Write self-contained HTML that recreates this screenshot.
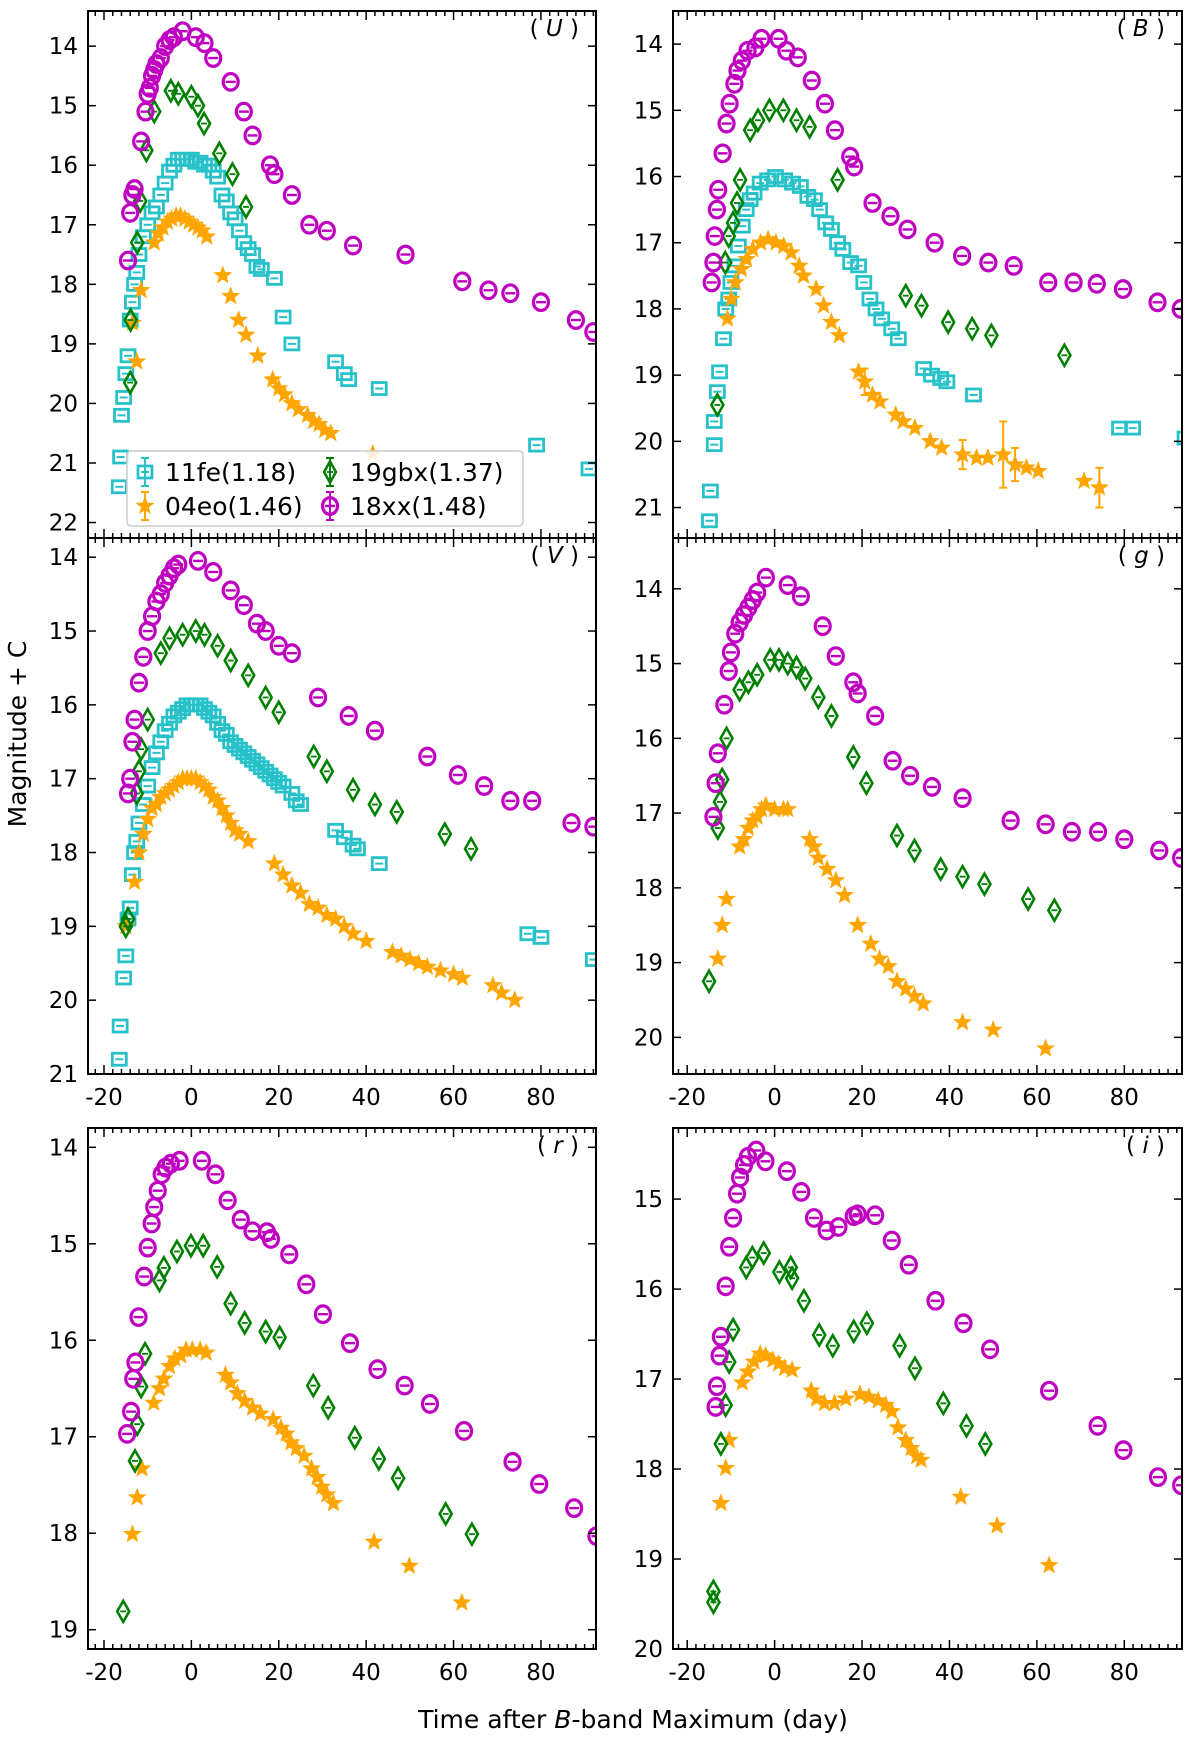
<!DOCTYPE html>
<html><head><meta charset="utf-8"><title>SN light curves</title>
<style>
html,body{margin:0;padding:0;background:#fff;}
svg{display:block;}
text{font-family:"DejaVu Sans","Liberation Sans",sans-serif;}
</style></head>
<body>
<svg id="fig" width="1200" height="1739" viewBox="0 0 1200 1739" xmlns="http://www.w3.org/2000/svg">
<text x="0" y="0" transform="translate(26,734) rotate(-90)" text-anchor="middle" font-size="25" fill="#000">Magnitude + C</text>
<text x="633" y="1728" text-anchor="middle" font-size="25" fill="#000">Time after <tspan font-style="italic">B</tspan>-band Maximum (day)</text>
</svg>
<script>
// ---------- data ----------
const U_11fe_t=[-16.5,-16.2,-16,-15.5,-15,-14.5,-14,-13.5,-13,-12.5,-12,-11,-10,-9,-8,-7,-6,-5,-4,-3,-2,-1,0,1,2,3,4,5,6,7,8,9,10,11,12,13,14,15,16,19,21,23,33,35,36,43,79,91];
const U_11fe_m=[21.4,20.9,20.2,19.9,19.5,19.2,18.6,18.3,18.0,17.8,17.5,17.2,17.0,16.8,16.7,16.5,16.3,16.1,16.0,15.9,15.9,15.9,15.9,15.95,15.95,16.0,16.0,16.1,16.2,16.5,16.6,16.8,16.9,17.1,17.3,17.4,17.5,17.7,17.75,17.9,18.55,19.0,19.3,19.5,19.6,19.75,20.7,21.1];
const U_04eo_t=[-13.5,-12.5,-11.5,-8.5,-7.5,-6.5,-5.5,-4.5,-3.5,-2.5,-1.5,-0.5,0.5,1.5,2.5,3.5,7.2,9,10.8,12.5,15.2,18.6,20,21.3,23,24.5,26.6,28,29.2,30.5,31.9,41.5];
const U_04eo_m=[18.65,19.3,18.1,17.3,17.15,17.05,16.95,16.9,16.85,16.85,16.9,16.95,17.0,17.05,17.1,17.2,17.85,18.2,18.6,18.85,19.2,19.6,19.75,19.85,20.0,20.1,20.2,20.3,20.35,20.45,20.5,20.85];
const U_19gbx_t=[-13.9,-14,-12.4,-11.7,-10.3,-8.5,-4.7,-3,0,1.5,2.9,6.4,9.4,12.5];
const U_19gbx_m=[18.6,19.65,17.3,16.6,15.75,15.1,14.75,14.8,14.85,15.0,15.3,15.8,16.15,16.7];
const U_18xx_t=[-14.5,-14,-13.5,-13,-11.5,-10.5,-10,-9.5,-9,-8.5,-8,-7,-6,-5,-4,-2,1,3,5,9,12,14,18,19,23,27,31,37,49,62,68,73,80,88,92];
const U_18xx_m=[17.6,16.8,16.5,16.4,15.6,15.1,14.8,14.7,14.5,14.4,14.3,14.2,14.0,13.9,13.85,13.75,13.85,13.95,14.2,14.6,15.1,15.5,16.0,16.15,16.5,17.0,17.1,17.35,17.5,17.95,18.1,18.15,18.3,18.6,18.8];

const B_11fe_t=[-14.9,-14.7,-13.8,-13.8,-13.1,-12.6,-11.7,-11.2,-10.5,-10,-9.1,-8.3,-7.4,-6.5,-5.6,-4.7,-3.3,-1.6,0.2,2.3,4.1,5.9,7.6,9.1,10.3,11.7,13,14.4,15.6,17.4,19.2,20.4,21.8,23.2,24.5,26.8,28.3,34.1,35.9,38,39.4,45.5,78.9,81.9,93.9];
const B_11fe_m=[21.2,20.75,20.05,19.7,19.25,18.95,18.45,18.0,17.85,17.6,17.35,17.05,16.75,16.5,16.35,16.25,16.1,16.05,16.0,16.05,16.1,16.15,16.3,16.35,16.5,16.7,16.8,17.0,17.1,17.3,17.35,17.6,17.85,18.0,18.15,18.3,18.45,18.9,19.0,19.05,19.1,19.3,19.8,19.8,19.95];
const B_04eo_t=[-10.8,-9.9,-9,-7.6,-6.4,-5,-3.2,-1.5,0.3,2.1,3.8,5.6,6.6,9.5,11.2,13,14.8,19.2,20.6,22.4,24.1,27.7,29.4,32.1,35.6,38.2,43,46.2,48.8,52.3,55,57.6,60.3,70.8,74.3];
const B_04eo_m=[18.15,17.85,17.6,17.4,17.25,17.1,17.0,16.95,17.0,17.05,17.15,17.35,17.5,17.7,17.95,18.2,18.4,18.95,19.1,19.3,19.4,19.6,19.7,19.8,20.0,20.1,20.2,20.25,20.25,20.2,20.35,20.4,20.45,20.6,20.7];
const B_04eo_e=[0,0,0,0,0,0,0,0,0,0,0,0,0,0,0,0,0,0,0.2,0,0,0,0,0,0,0,0.22,0,0,0.5,0.25,0,0,0,0.3];
const B_19gbx_t=[-13.1,-11.3,-10.5,-9.5,-8.6,-7.9,-5.6,-3.8,-1.2,2,5,8,14.4,30,33.6,39.7,45.2,49.6,66.3];
const B_19gbx_m=[19.45,17.3,16.9,16.7,16.4,16.05,15.3,15.15,15.0,15.0,15.15,15.25,16.05,17.8,17.95,18.2,18.3,18.4,18.7];
const B_18xx_t=[-14.4,-14,-13.7,-13.2,-12.9,-11.9,-11,-10.3,-9.2,-8.5,-7.5,-6.2,-4.4,-3,0.9,2.7,5.3,8.5,11.5,13.8,17.3,18.2,22.4,26.5,30.4,36.6,42.9,48.9,54.7,62.6,68.4,73.7,79.7,87.6,92.9];
const B_18xx_m=[17.6,17.3,16.9,16.5,16.2,15.65,15.2,14.9,14.6,14.4,14.25,14.1,14.05,13.92,13.92,14.1,14.2,14.55,14.9,15.3,15.7,15.85,16.4,16.6,16.8,17.0,17.2,17.3,17.35,17.6,17.6,17.62,17.7,17.9,18.0];

const V_11fe_t=[-16.5,-16.3,-15.5,-15,-14.5,-14,-13.5,-13,-12.5,-12,-11,-10,-9,-8,-7,-6,-5,-4,-3,-2,-1,0,1,2,3,4,5,6,7,8,9,10,11,12,13,14,15,16,17,18,19,20,21,23,24,25,33,35,37,38,43,77,80,92];
const V_11fe_m=[20.8,20.35,19.7,19.4,18.9,18.75,18.3,18.0,17.85,17.6,17.35,17.1,16.85,16.65,16.5,16.35,16.25,16.15,16.1,16.05,16.0,16.0,16.0,16.0,16.05,16.1,16.15,16.25,16.35,16.4,16.5,16.55,16.6,16.65,16.7,16.75,16.8,16.85,16.9,16.95,17.0,17.05,17.1,17.2,17.3,17.35,17.7,17.8,17.9,17.95,18.15,19.1,19.15,19.45];
const V_04eo_t=[-15,-13,-12,-11,-10,-9,-8,-7,-6,-5,-4,-3,-2,-1,0,1,2,3,4,5,6,7,8,9,10,11,13,19,21,23,25,27,29,31,33,35,37,40,46,48,50,52,54,57,60,62,69,71,74];
const V_04eo_m=[19.0,18.4,18.0,17.75,17.55,17.4,17.35,17.25,17.2,17.15,17.1,17.05,17.0,17.0,17.0,17.0,17.05,17.1,17.15,17.25,17.3,17.4,17.5,17.6,17.7,17.75,17.85,18.15,18.3,18.45,18.55,18.7,18.75,18.85,18.9,19.0,19.1,19.2,19.35,19.4,19.45,19.5,19.55,19.6,19.65,19.7,19.8,19.9,20.0];
const V_19gbx_t=[-15,-14.5,-12.5,-12,-11.5,-10,-7,-5,-2,1,3,6,9,13,17,20,28,31,37,42,47,58,64];
const V_19gbx_m=[19.0,18.9,17.2,16.9,16.6,16.2,15.3,15.1,15.05,15.0,15.05,15.2,15.4,15.6,15.9,16.1,16.7,16.9,17.15,17.35,17.45,17.75,17.95];
const V_18xx_t=[-14.5,-14,-13.5,-13,-12,-11,-10,-9,-8,-7,-6,-5,-4,-3,1.5,5,9,12,15,17,20,23,29,36,42,54,61,67,73,78,87,92];
const V_18xx_m=[17.2,17.0,16.5,16.2,15.7,15.35,15.0,14.8,14.6,14.5,14.35,14.25,14.15,14.1,14.05,14.2,14.45,14.65,14.9,15.0,15.2,15.3,15.9,16.15,16.35,16.7,16.95,17.1,17.3,17.3,17.6,17.65];

const G_04eo_t=[-13,-12,-11,-8,-7,-6,-5,-4,-3,-2,0,2,3,8,9,10,12,14,16,19,22,24,26,28,30,32,34,43,50,62];
const G_04eo_m=[18.95,18.5,18.15,17.45,17.35,17.2,17.1,17.05,16.95,16.9,16.95,16.95,16.95,17.35,17.45,17.6,17.75,17.9,18.1,18.5,18.75,18.95,19.05,19.25,19.35,19.45,19.55,19.8,19.9,20.15];
const G_19gbx_t=[-15,-13,-12.5,-12,-11,-8,-6,-4,-1,1,3,5,7,10,13,18,21,28,32,38,43,48,58,64];
const G_19gbx_m=[19.25,17.2,16.85,16.55,16.0,15.35,15.25,15.15,14.95,14.95,15.0,15.05,15.2,15.45,15.7,16.25,16.6,17.3,17.5,17.75,17.85,17.95,18.15,18.3];
const G_18xx_t=[-14,-13.5,-13,-11.5,-10.5,-10,-9,-8,-7,-6,-5,-4,-2,3,6,11,14,18,19,23,27,31,36,43,54,62,68,74,80,88,93];
const G_18xx_m=[17.05,16.6,16.2,15.55,15.1,14.85,14.6,14.45,14.35,14.25,14.15,14.05,13.85,13.95,14.1,14.5,14.9,15.25,15.4,15.7,16.3,16.5,16.65,16.8,17.1,17.15,17.25,17.25,17.35,17.5,17.6];

const R_04eo_t=[-13.5,-12.4,-11.3,-8.6,-7.3,-6.3,-5,-3.8,-2.4,-1.2,0.2,2,3.4,7.8,9,10.5,12.2,14,15.8,18.7,20.5,21.7,22.8,24,25.8,27.5,28.8,29.8,31,32.5,41.8,49.9,61.9];
const R_04eo_m=[18.01,17.63,17.33,16.65,16.5,16.4,16.27,16.19,16.16,16.1,16.1,16.1,16.13,16.36,16.44,16.55,16.63,16.7,16.76,16.82,16.91,16.97,17.06,17.12,17.2,17.33,17.42,17.52,17.6,17.69,18.09,18.34,18.72];
const R_19gbx_t=[-15.6,-12.9,-12.4,-11.5,-10.6,-7.3,-6.3,-3.3,-0.1,2.7,5.9,9,12.2,17,20.2,27.9,31.3,37.4,42.9,47.3,58.2,64.2];
const R_19gbx_m=[18.81,17.25,16.87,16.48,16.14,15.38,15.25,15.08,15.02,15.02,15.24,15.62,15.82,15.91,15.97,16.47,16.7,17.01,17.23,17.43,17.8,18.01];
const R_18xx_t=[-14.7,-13.8,-13.3,-12.8,-12.1,-10.8,-10,-9.1,-8.5,-7.7,-6.8,-5.9,-4.7,-2.7,2.4,5.5,8.3,11.3,14,17.3,18.2,22.4,26.3,30.1,36.3,42.6,48.8,54.6,62.4,73.5,79.6,87.6,92.7];
const R_18xx_m=[16.97,16.74,16.4,16.23,15.76,15.34,15.04,14.79,14.62,14.45,14.28,14.21,14.17,14.14,14.14,14.28,14.55,14.75,14.87,14.88,14.95,15.11,15.42,15.73,16.03,16.3,16.47,16.66,16.94,17.26,17.49,17.74,18.03];

const I_04eo_t=[-12.3,-11.2,-10.4,-7.4,-6.1,-4.7,-3.3,-2.1,-0.4,0.9,2.3,4,8.4,9.6,11.4,13.7,16.3,19.5,21.6,23.7,25.4,26.8,28.2,30,31.2,32.5,33.5,42.6,50.9,62.8];
const I_04eo_m=[18.38,17.99,17.68,17.04,16.92,16.81,16.72,16.74,16.79,16.83,16.88,16.9,17.13,17.22,17.27,17.27,17.22,17.17,17.2,17.24,17.29,17.36,17.54,17.68,17.77,17.86,17.9,18.31,18.63,19.07];
const I_19gbx_t=[-14,-14,-12.3,-11.2,-10.4,-9.5,-6.5,-5.1,-2.5,1.1,3.7,4,6.7,10.2,13.3,18.1,21.1,28.6,32.1,38.6,43.9,48.2];
const I_19gbx_m=[19.36,19.48,17.72,17.29,16.81,16.45,15.76,15.65,15.6,15.81,15.76,15.88,16.13,16.51,16.63,16.47,16.38,16.63,16.88,17.27,17.52,17.72];
const I_18xx_t=[-13.5,-13.2,-12.6,-12.3,-11.2,-10.4,-9.5,-8.6,-7.9,-7,-6.1,-4.2,-2.1,2.8,6.1,9,11.9,14.6,18.1,19,23,26.8,30.7,36.8,43.2,49.3,62.8,73.9,79.8,87.7,93];
const I_18xx_m=[17.31,17.08,16.74,16.53,15.97,15.53,15.21,14.94,14.76,14.62,14.53,14.46,14.58,14.69,14.92,15.21,15.35,15.31,15.19,15.17,15.18,15.46,15.73,16.13,16.38,16.67,17.13,17.52,17.79,18.09,18.18];

const xTicks=[-20,0,20,40,60,80];
const legendLabels=["11fe(1.18)","19gbx(1.37)","04eo(1.46)","18xx(1.48)"];

// ---------- drawing ----------
const NS="http://www.w3.org/2000/svg";
const svg=document.getElementById('fig');
const COL={c:"#27c2c9",o:"#ffa500",g:"#008000",m:"#c000c0"};
function mk(tag,attrs,parent){const e=document.createElementNS(NS,tag);for(const k in attrs)e.setAttribute(k,attrs[k]);(parent||svg).appendChild(e);return e;}

function marker(g,type,x,y){
  let e;
  if(type==='c'){e=mk('g',{},g);mk('rect',{x:x-7,y:y-6,width:14,height:12,fill:'none',stroke:COL.c,'stroke-width':2.8},e);mk('line',{x1:x-4,x2:x+4,y1:y,y2:y,stroke:COL.c,'stroke-width':2},e);}
  else if(type==='m'){e=mk('g',{},g);mk('ellipse',{cx:x,cy:y,rx:7.5,ry:8.3,fill:'none',stroke:COL.m,'stroke-width':3.2},e);mk('line',{x1:x-5,x2:x+5,y1:y,y2:y,stroke:COL.m,'stroke-width':2.4},e);}
  else if(type==='g'){e=mk('g',{},g);mk('path',{d:`M${x},${y-10.5}L${x+6},${y}L${x},${y+10.5}L${x-6},${y}Z`,fill:'none',stroke:COL.g,'stroke-width':2.6},e);mk('line',{x1:x-3,x2:x+3,y1:y,y2:y,stroke:COL.g,'stroke-width':1.8},e);}
  else {let d='';for(let k=0;k<10;k++){const r=k%2?3.6:8.5,a=-Math.PI/2+k*Math.PI/5;d+=(k?'L':'M')+(x+r*Math.cos(a)).toFixed(1)+','+(y+r*Math.sin(a)).toFixed(1);}e=mk('path',{d:d+'Z',fill:COL.o,stroke:COL.o,'stroke-width':1},g);}
  return e;
}

function panel(name,label,x0,x1,y0,y1,d0,d1,m0,m1,yTicks,showX,series){
  const pg=mk('g',{});
  
  
  const sx=d=>x0+(d-d0)/(d1-d0)*(x1-x0);
  const sy=m=>y0+(m-m0)/(m1-m0)*(y1-y0);
  const clip='clip-'+name;
  const cp=mk('clipPath',{id:clip},pg);mk('rect',{x:x0,y:y0,width:x1-x0,height:y1-y0},cp);
  const dg=mk('g',{'clip-path':`url(#${clip})`},pg);
  series.forEach(s=>{
    const sg=mk('g',{},dg);
    
    
    s.t.forEach((t,i)=>{
      const X=sx(t),Y=sy(s.m[i]);
      if(s.e&&s.e[i]){const E=s.e[i]*(y1-y0)/(m1-m0);mk('line',{x1:X,x2:X,y1:Y-E,y2:Y+E,stroke:COL[s.k],'stroke-width':2},sg);mk('line',{x1:X-4,x2:X+4,y1:Y-E,y2:Y-E,stroke:COL[s.k],'stroke-width':2},sg);mk('line',{x1:X-4,x2:X+4,y1:Y+E,y2:Y+E,stroke:COL[s.k],'stroke-width':2},sg);}
      const p=marker(sg,s.k,X,Y);
      
      
    });
  });
  mk('rect',{x:x0,y:y0,width:x1-x0,height:y1-y0,fill:'none',stroke:'#000','stroke-width':2},pg);
  for(let d=-22;d<=d1;d+=2){if(d<d0)continue;const X=sx(d);const maj=d%20===0;const L=maj?9:5;
    mk('line',{x1:X,x2:X,y1:y0,y2:y0+L,stroke:'#000','stroke-width':1.5},pg);
    mk('line',{x1:X,x2:X,y1:y1,y2:y1-L,stroke:'#000','stroke-width':1.5},pg);}
  if(showX) xTicks.forEach(d=>{const t=mk('text',{x:sx(d),y:y1+31,'text-anchor':'middle','font-size':23},pg);t.textContent=d;
    });
  yTicks.forEach(m=>{const Y=sy(m);
    mk('line',{x1:x0,x2:x0+8,y1:Y,y2:Y,stroke:'#000','stroke-width':1.5},pg);
    mk('line',{x1:x1,x2:x1-8,y1:Y,y2:Y,stroke:'#000','stroke-width':1.5},pg);
    const t=mk('text',{x:x0-10,y:Y+8,'text-anchor':'end','font-size':23},pg);t.textContent=m;
    });
  const bl=mk('text',{x:x1-17,y:y0+25,'text-anchor':'end','font-size':23},pg);
  
  bl.innerHTML='( <tspan font-style="italic">'+label+'</tspan> )';
}

const S=(k,n,t,m,e)=>({k,n,t,m,e});
panel('u-band','U',88,596,11,538,-23.66,92.6,13.41,22.26,[14,15,16,17,18,19,20,21,22],false,
 [S('c','11fe',U_11fe_t,U_11fe_m),S('o','04eo',U_04eo_t,U_04eo_m),S('g','19gbx',U_19gbx_t,U_19gbx_m),S('m','18xx',U_18xx_t,U_18xx_m)]);
panel('b-band','B',673,1182,11,538,-23.25,93.2,13.5,21.46,[14,15,16,17,18,19,20,21],false,
 [S('c','11fe',B_11fe_t,B_11fe_m),S('o','04eo',B_04eo_t,B_04eo_m,B_04eo_e),S('g','19gbx',B_19gbx_t,B_19gbx_m),S('m','18xx',B_18xx_t,B_18xx_m)]);
panel('v-band','V',88,596,538,1074,-23.66,92.6,13.74,21,[14,15,16,17,18,19,20,21],true,
 [S('c','11fe',V_11fe_t,V_11fe_m),S('o','04eo',V_04eo_t,V_04eo_m),S('g','19gbx',V_19gbx_t,V_19gbx_m),S('m','18xx',V_18xx_t,V_18xx_m)]);
panel('g-band','g',673,1182,538,1074,-23.25,93.2,13.32,20.49,[14,15,16,17,18,19,20],true,
 [S('o','04eo',G_04eo_t,G_04eo_m),S('g','19gbx',G_19gbx_t,G_19gbx_m),S('m','18xx',G_18xx_t,G_18xx_m)]);
panel('r-band','r',88,596,1128,1649,-23.66,92.6,13.80,19.2,[14,15,16,17,18,19],true,
 [S('o','04eo',R_04eo_t,R_04eo_m),S('g','19gbx',R_19gbx_t,R_19gbx_m),S('m','18xx',R_18xx_t,R_18xx_m)]);
panel('i-band','i',673,1182,1128,1649,-23.25,93.2,14.21,20,[15,16,17,18,19,20],true,
 [S('o','04eo',I_04eo_t,I_04eo_m),S('g','19gbx',I_19gbx_t,I_19gbx_m),S('m','18xx',I_18xx_t,I_18xx_m)]);

const lg=mk('g',{});


mk('rect',{x:127,y:451,width:396,height:75,rx:4,fill:'#fff','fill-opacity':0.85,stroke:'#ccc','stroke-width':1.5},lg);
const LE=[['c',145,472],['g',330,472],['o',145,506],['m',330,506]];
LE.forEach((L,i)=>{
  const eg=mk('g',{},lg);
  
  
  mk('line',{x1:L[1],x2:L[1],y1:L[2]-14,y2:L[2]+14,stroke:COL[L[0]],'stroke-width':2},eg);
  mk('line',{x1:L[1]-4,x2:L[1]+4,y1:L[2]-14,y2:L[2]-14,stroke:COL[L[0]],'stroke-width':2},eg);
  mk('line',{x1:L[1]-4,x2:L[1]+4,y1:L[2]+14,y2:L[2]+14,stroke:COL[L[0]],'stroke-width':2},eg);
  marker(eg,L[0],L[1],L[2]);
  const t=mk('text',{x:L[1]+20,y:L[2]+9,'font-size':25,'font-family':'"DejaVu Serif","Liberation Serif",serif'},eg);
  t.textContent=legendLabels[i];
});
</script>
</body></html>
